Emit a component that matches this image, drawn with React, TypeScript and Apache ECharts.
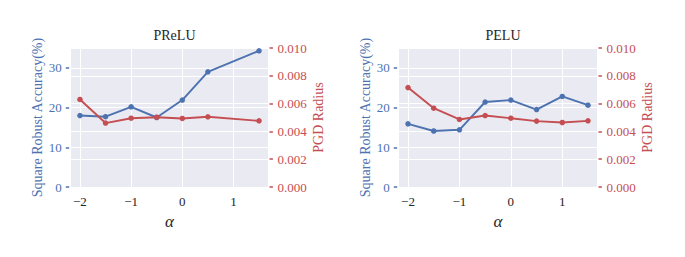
import React, { useEffect, useRef } from "react";
import * as echarts from "echarts";

const xPReLU = [-2, -1.5, -1, -0.5, 0, 0.5, 1.5];
const accPReLU = [18.0, 17.7, 20.2, 17.5, 21.9, 29.0, 34.3];
const radPReLU = [0.0063, 0.0046, 0.00495, 0.00502, 0.00493, 0.00505, 0.00476];

const xPELU = [-2, -1.5, -1, -0.5, 0, 0.5, 1, 1.5];
const accPELU = [15.9, 14.1, 14.4, 21.4, 21.9, 19.5, 22.8, 20.6];
const radPELU = [0.00715, 0.00567, 0.00486, 0.00514, 0.00495, 0.00474, 0.00464, 0.00476];

const titles = ["PReLU", "PELU"];
const xTicks = [-2, -1, 0, 1];
const leftTicks = [0, 10, 20, 30];

const BLUE = "#4c72b0";
const RED = "#c44e52";
const DARK = "#262626";
const FONT = "Liberation Serif";

const fmtX = (v: number) => (v < 0 ? "\u2212" + Math.abs(v) : String(v));

export default function App() {
  const ref = useRef<HTMLDivElement>(null);
  useEffect(() => {
    const chart = echarts.init(ref.current!, undefined, { renderer: "svg" });
    const grids = [
      { left: 71, top: 48, width: 197, height: 139 },
      { left: 399, top: 48, width: 198, height: 139 },
    ];
    const xAxis = grids.map((_, i) => ({
      type: "value",
      gridIndex: i,
      min: -2.175,
      max: 1.675,
      axisLine: { show: false, onZero: false },
      axisTick: { show: false, customValues: xTicks },
      axisLabel: {
        customValues: xTicks,
        formatter: fmtX,
        color: DARK,
        fontFamily: FONT,
        fontSize: 13,
        margin: 8,
      },
      splitLine: { show: true, lineStyle: { color: "#fff", width: 1 } },
      name: "α",
      nameLocation: "middle",
      nameGap: 19,
      nameTextStyle: { color: DARK, fontFamily: FONT, fontSize: 17, fontStyle: "italic" },
    }));
    const yAxis: any[] = [];
    grids.forEach((_, i) => {
      yAxis.push({
        type: "value",
        gridIndex: i,
        position: "left",
        min: 0,
        max: 35,
        offset: 1.8,
        axisLine: { show: false, onZero: false },
        axisTick: { show: true, length: 3.4, customValues: leftTicks, lineStyle: { color: BLUE, width: 1.5 } },
        axisLabel: { customValues: leftTicks, color: BLUE, fontFamily: FONT, fontSize: 13, margin: 7.5 },
        splitLine: { show: true, lineStyle: { color: "#fff", width: 1 } },
        name: "Square Robust Accuracy(%)",
        nameLocation: "middle",
        nameRotate: 90,
        nameGap: 25,
        nameTextStyle: { color: BLUE, fontFamily: FONT, fontSize: 14 },
      });
      yAxis.push({
        type: "value",
        gridIndex: i,
        position: "right",
        min: 0,
        max: 0.01,
        interval: 0.002,
        offset: 1.5,
        axisLine: { show: false, onZero: false },
        axisTick: { show: true, length: 3.4, lineStyle: { color: RED, width: 1.5 } },
        axisLabel: {
          color: RED,
          fontFamily: FONT,
          fontSize: 13,
          margin: 8,
          formatter: (v: number) => v.toFixed(3),
        },
        splitLine: { show: true, lineStyle: { color: "#fff", width: 1 } },
        name: "PGD Radius",
        nameLocation: "middle",
        nameRotate: 90,
        nameGap: 42,
        nameTextStyle: { color: RED, fontFamily: FONT, fontSize: 14 },
      });
    });
    const line = (x: number[], y: number[], xi: number, yi: number, color: string) => ({
      type: "line",
      xAxisIndex: xi,
      yAxisIndex: yi,
      data: x.map((v, k) => [v, y[k]]),
      symbol: "circle",
      symbolSize: 5.5,
      itemStyle: { color },
      lineStyle: { color, width: 1.9 },
    });
    chart.setOption({
      animation: false,
      textStyle: { fontFamily: FONT },
      title: titles.map((t, i) => ({
        text: t,
        left: grids[i].left + grids[i].width / 2,
        top: 23,
        textAlign: "center",
        textStyle: { color: DARK, fontFamily: FONT, fontSize: 14, fontWeight: "normal" },
      })),
      grid: grids.map((g) => ({ ...g, backgroundColor: "#eaeaf2", show: true, borderWidth: 0 })),
      xAxis,
      yAxis,
      series: [
        line(xPReLU, accPReLU, 0, 0, BLUE),
        line(xPReLU, radPReLU, 0, 1, RED),
        line(xPELU, accPELU, 1, 2, BLUE),
        line(xPELU, radPELU, 1, 3, RED),
      ],
    });
    return () => chart.dispose();
  }, []);
  return (
    <div
      ref={ref}
      style={{ position: "absolute", left: 0, top: 0, width: 685, height: 257, background: "#fff" }}
    />
  );
}
